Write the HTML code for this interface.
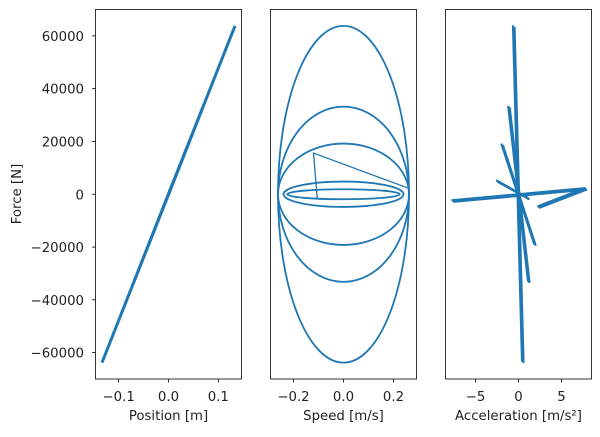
<!DOCTYPE html>
<html><head><meta charset="utf-8"><style>
body{margin:0;background:#fff}
svg{font-family:"DejaVu Sans","Liberation Sans",sans-serif;font-size:13.3px}
</style></head><body>
<svg id="c" width="600" height="432"></svg>
<script>
// ---- data ----
const loopForceAmp = [63800, 33200, 19200, 4800, 1900];
const loopSpeedAmp = [0.262, 0.262, 0.262, 0.24, 0.225];
const stiffness = 478000;
const speedExtraV = [0.262, -0.12, -0.105];
const speedExtraF = [2200, 15600, -1600];
const accStart = [-0.64, -1.2, -2.0, -2.6, -7.8, 7.7];
const forceStart = [64000, 33500, 19200, 5300, -2300, 2300];
const accEnd = [0.41, 1.1, 1.8, 1.0, 7.7, 2.3];
const forceEnd = [-63000, -32700, -18600, -1200, 2300, -4500];
const posTicks = [-0.1, 0.0, 0.1];
const posTickLabels = ["\u22120.1", "0.0", "0.1"];
const forceTicks = [-60000, -40000, -20000, 0, 20000, 40000, 60000];
const forceTickLabels = ["\u221260000", "\u221240000", "\u221220000", "0", "20000", "40000", "60000"];
const speedTicks = [-0.2, 0.0, 0.2];
const speedTickLabels = ["\u22120.2", "0.0", "0.2"];
const accTicks = [-5, 0, 5];
const accTickLabels = ["\u22125", "0", "5"];

const NS = "http://www.w3.org/2000/svg";
const svg = document.getElementById('c');
function mk(tag, attrs, parent) {
  const e = document.createElementNS(NS, tag);
  for (const k in attrs) e.setAttribute(k, attrs[k]);
  (parent || svg).appendChild(e);
  return e;
}
const axTop = 9.5, axBot = 379;
const fMin = -70000, fMax = 70000;
const Y = v => axBot - (v - fMin) / (fMax - fMin) * (axBot - axTop);
function xs(l, r, d0, d1) { return v => l + (v - d0) / (d1 - d0) * (r - l); }
const panels = [
  {l: 95.5, r: 241.5, d0: -0.1465, d1: 0.1465, ticks: posTicks, labels: posTickLabels, title: "Position [m]", name: "position"},
  {l: 270.5, r: 416.5, d0: -0.292, d1: 0.292, ticks: speedTicks, labels: speedTickLabels, title: "Speed [m/s]", name: "speed"},
  {l: 445.5, r: 591.5, d0: -8.5, d1: 8.5, ticks: accTicks, labels: accTickLabels, title: "Acceleration [m/s\u00b2]", name: "acceleration"}
];
const C = "#1f77b4";
panels.forEach((p, i) => {
  p.X = xs(p.l, p.r, p.d0, p.d1);
  const g = mk('g', {});
  
  
  p.g = g;
});
const P1 = panels[0];
loopForceAmp.forEach((F, i) => {
  const x = F / stiffness;
  const l = mk('line', {x1: P1.X(-x), y1: Y(-F), x2: P1.X(x), y2: Y(F), stroke: C, 'stroke-width': 3}, P1.g);
  
  
});
const P2 = panels[1];
loopForceAmp.forEach((F, i) => {
  const e = mk('ellipse', {cx: P2.X(0), cy: Y(0), rx: P2.X(loopSpeedAmp[i]) - P2.X(0), ry: Y(0) - Y(F), fill: 'none', stroke: C, 'stroke-width': 1.8}, P2.g);
  
  
});
const pts = speedExtraV.map((v, i) => P2.X(v) + ',' + Y(speedExtraF[i])).join(' ');
const pl = mk('polyline', {points: pts, fill: 'none', stroke: C, 'stroke-width': 1.3}, P2.g);


const P3 = panels[2];
accStart.forEach((a, i) => {
  const x1 = P3.X(a), y1 = Y(forceStart[i]), x2 = P3.X(accEnd[i]), y2 = Y(forceEnd[i]);
  const l = mk('polyline', {points: x1 + ',' + y1 + ' ' + x2 + ',' + y2 + ' ' + (x2 + 1.5) + ',' + (y2 + 1.5) + ' ' + (x1 + 1.5) + ',' + (y1 + 1.5), fill: 'none', stroke: C, 'stroke-width': 2.2, 'stroke-linejoin': 'round'}, P3.g);
  
  
});
panels.forEach((p, i) => {
  const r = mk('rect', {x: p.l, y: axTop, width: p.r - p.l, height: axBot - axTop, fill: 'none', stroke: '#000', 'stroke-width': 0.8});
  
  
  p.ticks.forEach((t, j) => {
    const x = p.X(t);
    mk('line', {x1: x, y1: axBot, x2: x, y2: axBot + 3.5, stroke: '#000', 'stroke-width': 0.8});
    const tx = mk('text', {x: x, y: axBot + 22, 'text-anchor': 'middle', fill: '#222'});
    tx.textContent = p.labels[j];
    
    
  });
  const tt = mk('text', {x: (p.l + p.r) / 2, y: 420, 'text-anchor': 'middle', fill: '#222'});
  tt.textContent = p.title;
  
  
});
forceTicks.forEach((t, j) => {
  const y = Y(t);
  mk('line', {x1: 95.5, y1: y, x2: 92, y2: y, stroke: '#000', 'stroke-width': 0.8});
  const tx = mk('text', {x: 84, y: y + 5, 'text-anchor': 'end', fill: '#222'});
  tx.textContent = forceTickLabels[j];
  
  
});
const yt = mk('text', {x: 21, y: 194, 'text-anchor': 'middle', transform: 'rotate(-90 21 194)', fill: '#222'});
yt.textContent = "Force [N]";


</script>
</body></html>
